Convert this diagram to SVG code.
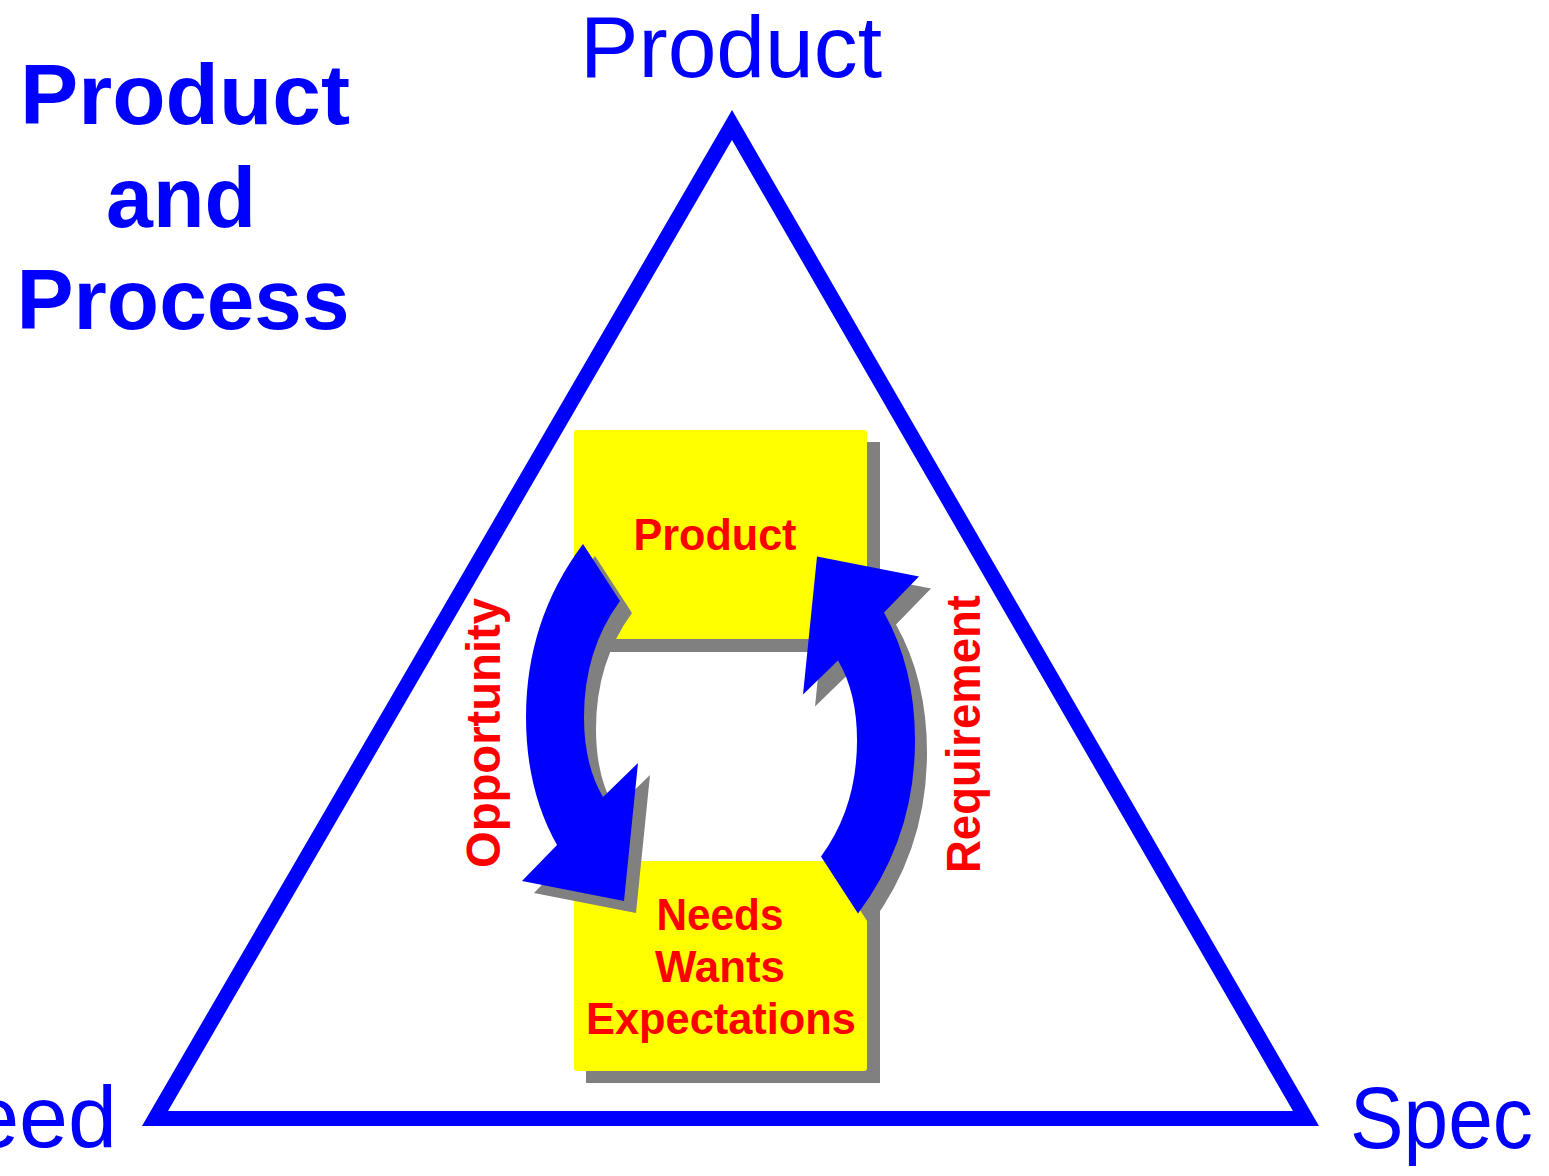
<svg xmlns="http://www.w3.org/2000/svg" width="1549" height="1176" viewBox="0 0 1549 1176">
<style>
.blue{fill:#0000FF;font-family:"Liberation Sans",Arial,sans-serif}
.title{font-weight:bold;font-size:85px;text-anchor:middle}
.corner{font-size:88px}
.red{fill:#FF0000;font-family:"Liberation Sans",Arial,sans-serif;font-weight:bold}
.box{fill:#FFFF00}
.shadow{fill:#808080}
.arrow{fill:#0000FF}
</style>
<defs>
<path id="arr" d="M583,544 L620,601 Q584,650 584,717 Q584,765 603,797 L638,763 L624,901 L522,881 L557,845 Q526,790 526,717 Q526,620 583,544 Z"/>
</defs>
<rect width="1549" height="1176" fill="#FFFFFF"/>
<g id="triangle">
<polygon points="732,125 155,1118.5 1306,1118.5" fill="none" stroke="#0000FF" stroke-width="15" stroke-linejoin="miter"/>
</g>
<g id="title" class="blue title">
<text x="185" y="124" textLength="330" lengthAdjust="spacingAndGlyphs">Product</text>
<text x="181" y="227" textLength="150" lengthAdjust="spacingAndGlyphs">and</text>
<text x="183" y="329" textLength="333" lengthAdjust="spacingAndGlyphs">Process</text>
</g>
<g id="label-product" class="blue corner">
<text x="580" y="77" textLength="302" lengthAdjust="spacingAndGlyphs">Product</text>
</g>
<g id="label-need" class="blue corner">
<text x="117" y="1147" text-anchor="end">Need</text>
</g>
<g id="label-spec" class="blue corner">
<text x="1350" y="1148" textLength="183" lengthAdjust="spacingAndGlyphs">Spec</text>
</g>
<g id="node-product">
<rect class="shadow" x="586" y="442" width="294" height="210"/>
<rect class="box" x="574" y="430" width="293" height="209" rx="3"/>
<text class="red" x="715" y="550" font-size="44" text-anchor="middle" textLength="163" lengthAdjust="spacingAndGlyphs">Product</text>
</g>
<g id="node-needs">
<rect class="shadow" x="586" y="873" width="294" height="210"/>
<rect class="box" x="574" y="861" width="293" height="210" rx="3"/>
<text class="red" x="720" y="930" font-size="44" text-anchor="middle" textLength="127" lengthAdjust="spacingAndGlyphs">Needs</text>
<text class="red" x="720" y="982" font-size="44" text-anchor="middle" textLength="130" lengthAdjust="spacingAndGlyphs">Wants</text>
<text class="red" x="721" y="1034" font-size="44" text-anchor="middle" textLength="270" lengthAdjust="spacingAndGlyphs">Expectations</text>
</g>
<g id="connectors">
<use href="#arr" class="shadow" transform="translate(12,12)"/>
<use href="#arr" class="shadow" transform="translate(12,12) rotate(180,720.5,728.75)"/>
<use href="#arr" class="arrow"/>
<use href="#arr" class="arrow" transform="rotate(180,720.5,728.75)"/>
<text class="red" transform="translate(500,733) rotate(-90)" font-size="48" text-anchor="middle" textLength="270" lengthAdjust="spacingAndGlyphs">Opportunity</text>
<text class="red" transform="translate(980,734) rotate(-90)" font-size="48" text-anchor="middle" textLength="278" lengthAdjust="spacingAndGlyphs">Requirement</text>
</g>
</svg>
